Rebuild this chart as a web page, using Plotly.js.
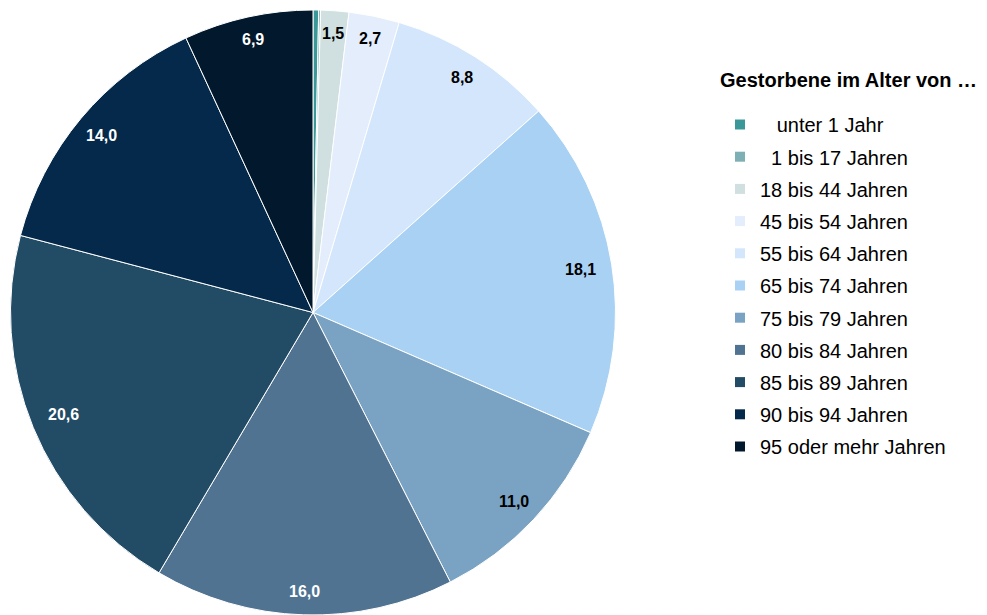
<!DOCTYPE html>
<html><head><meta charset="utf-8">
<script src="https://cdn.plot.ly/plotly-3.0.1.min.js"></script>
<style>html,body{margin:0;padding:0;background:#fff}#chart{width:987px;height:615px}</style>
</head><body><div id="chart"></div>
<script>
const categories = ["unter 1 Jahr","1 bis 17 Jahren","18 bis 44 Jahren","45 bis 54 Jahren","55 bis 64 Jahren","65 bis 74 Jahren","75 bis 79 Jahren","80 bis 84 Jahren","85 bis 89 Jahren","90 bis 94 Jahren","95 oder mehr Jahren"];
const legendLabels = ["\u00a0\u00a0\u00a0unter 1 Jahr","\u00a0\u00a01 bis 17 Jahren","18 bis 44 Jahren","45 bis 54 Jahren","55 bis 64 Jahren","65 bis 74 Jahren","75 bis 79 Jahren","80 bis 84 Jahren","85 bis 89 Jahren","90 bis 94 Jahren","95 oder mehr Jahren"];
const shares = [0.3,0.1,1.5,2.7,8.8,18.1,11.0,16.0,20.6,14.0,6.9];
const valueLabels = ["","","1,5","2,7","8,8","18,1","11,0","16,0","20,6","14,0","6,9"];
const sliceColors = ["#3a9899","#7eafb4","#d0dfe0","#e3edfc","#d3e6fb","#a9d1f3","#7aa2c2","#507391","#224b66","#05294a","#02182c"];
const labelColors = ["#000","#000","#000","#000","#000","#000","#000","#fff","#fff","#fff","#fff"];
const legendTitle = "Gestorbene im Alter von …";

const FONT = "Liberation Sans, Arial, sans-serif";
const W = 987, H = 615;
const domX = [10/W, 616/W];
const domY = [0, 605/H];

const traces = [{
  type: "pie",
  values: shares,
  labels: categories,
  sort: false,
  direction: "clockwise",
  rotation: 0,
  textinfo: "none",
  marker: {colors: sliceColors, line: {color: "#ffffff", width: 1}},
  domain: {x: domX, y: domY},
  showlegend: false,
  hoverinfo: "label+value"
}];
categories.forEach((c, i) => {
  traces.push({
    type: "scatter", mode: "markers", x: [null], y: [null],
    name: legendLabels[i], legendgroup: "g" + i,
    marker: {symbol: "square", size: 10, color: sliceColors[i]},
    hoverinfo: "skip"
  });
});

// value labels: placed "inside end" at the middle angle of each slice
const LBL_SIZE = 16;
const total = shares.reduce((a, b) => a + b, 0);
const pw = (domX[1] - domX[0]) * W, ph = (domY[1] - domY[0]) * H;
const r = Math.min(pw, ph) / 2;
const cxPx = (domX[0] + domX[1]) / 2 * W;
const cyPx = H - (domY[0] + domY[1]) / 2 * H;
const annotations = [];
let cum = 0;
shares.forEach((v, i) => {
  const mid = (cum + v / 2) / total * 2 * Math.PI;
  cum += v;
  if (!valueLabels[i]) return;
  const s = valueLabels[i];
  let w = 0;
  for (const ch of s) w += (ch === "," ? 0.278 : 0.556) * LBL_SIZE;
  const h = LBL_SIZE * 0.88;
  const sn = Math.abs(Math.sin(mid)), cs = Math.abs(Math.cos(mid));
  const ext = Math.min(sn > 1e-6 ? (w / 2) / sn : 1e9, cs > 1e-6 ? (h / 2) / cs : 1e9);
  const rr = r - 16 - ext;
  const px = cxPx + rr * Math.sin(mid);
  const py = cyPx - rr * Math.cos(mid);
  annotations.push({
    x: px / W, y: 1 - py / H, xref: "paper", yref: "paper",
    text: "<b>" + s + "</b>", showarrow: false,
    font: {family: FONT, size: LBL_SIZE, color: labelColors[i]},
    xanchor: "center", yanchor: "middle"
  });
});
annotations.push({
  x: 718 / W, y: 1 - 80 / H, xref: "paper", yref: "paper",
  xanchor: "left", yanchor: "middle", showarrow: false,
  text: "<b>" + legendTitle + "</b>",
  font: {family: FONT, size: 20, color: "#000"}
});

const layout = {
  width: W, height: H,
  margin: {l: 0, r: 0, t: 0, b: 0},
  paper_bgcolor: "#ffffff", plot_bgcolor: "#ffffff",
  font: {family: FONT, color: "#000"},
  xaxis: {visible: false, domain: [0.99, 1]},
  yaxis: {visible: false, domain: [0.99, 1]},
  showlegend: true,
  legend: {
    x: 720 / W, xanchor: "left", y: 1 - 105 / H, yanchor: "top",
    bgcolor: "rgba(0,0,0,0)", borderwidth: 0,
    tracegroupgap: 3.2,
    font: {family: FONT, size: 20, color: "#000"}
  },
  annotations: annotations
};
Plotly.newPlot("chart", traces, layout, {displayModeBar: false, responsive: false});
</script>
</body></html>
